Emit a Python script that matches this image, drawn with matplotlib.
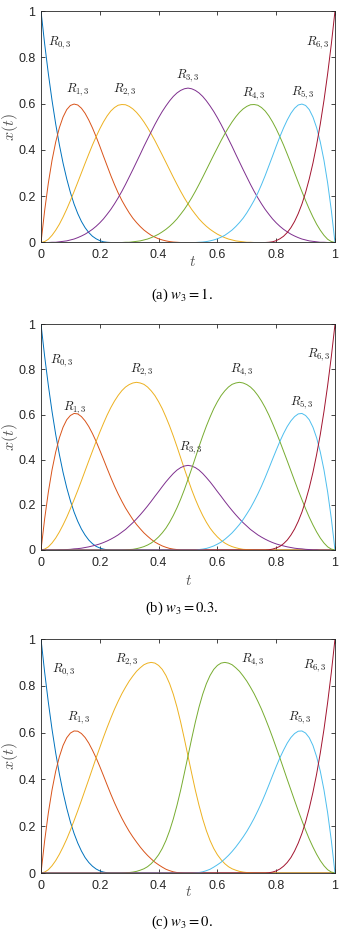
# Funcoes base NURBS R_{i,3} para tres pesos w3 (1, 0.3, 0)
import matplotlib
matplotlib.use('Agg')
import matplotlib.pyplot as plt

plt.rcParams['font.family'] = ['Liberation Sans', 'DejaVu Sans']
plt.rcParams['mathtext.fontset'] = 'cm'

# parametro t (passo 0.0125)
t_vals = [0.0000, 0.0125, 0.0250, 0.0375, 0.0500, 0.0625, 0.0750, 0.0875, 0.1000, 0.1125,
          0.1250, 0.1375, 0.1500, 0.1625, 0.1750, 0.1875, 0.2000, 0.2125, 0.2250, 0.2375,
          0.2500, 0.2625, 0.2750, 0.2875, 0.3000, 0.3125, 0.3250, 0.3375, 0.3500, 0.3625,
          0.3750, 0.3875, 0.4000, 0.4125, 0.4250, 0.4375, 0.4500, 0.4625, 0.4750, 0.4875,
          0.5000, 0.5125, 0.5250, 0.5375, 0.5500, 0.5625, 0.5750, 0.5875, 0.6000, 0.6125,
          0.6250, 0.6375, 0.6500, 0.6625, 0.6750, 0.6875, 0.7000, 0.7125, 0.7250, 0.7375,
          0.7500, 0.7625, 0.7750, 0.7875, 0.8000, 0.8125, 0.8250, 0.8375, 0.8500, 0.8625,
          0.8750, 0.8875, 0.9000, 0.9125, 0.9250, 0.9375, 0.9500, 0.9625, 0.9750, 0.9875,
          1.0000]

# --- (a) w3 = 1 ---
a_R0 = [1.000, .857, .729, .614, .512, .422, .343, .275, .216, .166,
        .125, .091, .064, .043, .027, .016, .008, .003, .001, 0,
        0, 0, 0, 0, 0, 0, 0, 0, 0, 0,
        0, 0, 0, 0, 0, 0, 0, 0, 0, 0,
        0, 0, 0, 0, 0, 0, 0, 0, 0, 0,
        0, 0, 0, 0, 0, 0, 0, 0, 0, 0,
        0, 0, 0, 0, 0, 0, 0, 0, 0, 0,
        0, 0, 0, 0, 0, 0, 0, 0, 0, 0,
        0]
a_R1 = [0, .139, .257, .355, .434, .496, .542, .574, .592, .598,
        .594, .580, .558, .529, .495, .457, .416, .373, .331, .289,
        .250, .214, .182, .154, .128, .105, .086, .069, .054, .042,
        .031, .023, .016, .011, .007, .004, .002, .001, 0, 0,
        0, 0, 0, 0, 0, 0, 0, 0, 0, 0,
        0, 0, 0, 0, 0, 0, 0, 0, 0, 0,
        0, 0, 0, 0, 0, 0, 0, 0, 0, 0,
        0, 0, 0, 0, 0, 0, 0, 0, 0, 0,
        0]
a_R2 = [0, .004, .014, .031, .053, .079, .110, .144, .181, .220,
        .260, .301, .342, .382, .421, .457, .491, .521, .547, .568,
        .583, .593, .596, .595, .588, .577, .562, .543, .521, .496,
        .469, .440, .409, .378, .346, .314, .282, .251, .221, .193,
        .167, .143, .122, .102, .085, .070, .057, .046, .036, .028,
        .021, .015, .011, .007, .005, .003, .001, .001, 0, 0,
        0, 0, 0, 0, 0, 0, 0, 0, 0, 0,
        0, 0, 0, 0, 0, 0, 0, 0, 0, 0,
        0]
a_R3 = [0, 0, 0, .001, .001, .003, .005, .007, .011, .015,
        .021, .028, .036, .046, .057, .070, .085, .102, .122, .143,
        .167, .193, .221, .251, .283, .315, .348, .381, .415, .447,
        .479, .510, .539, .566, .590, .612, .631, .646, .657, .664,
        .667, .664, .657, .646, .631, .612, .590, .566, .539, .510,
        .479, .447, .415, .381, .348, .315, .283, .251, .221, .193,
        .167, .143, .122, .102, .085, .070, .057, .046, .036, .028,
        .021, .015, .011, .007, .005, .003, .001, .001, 0, 0,
        0]
a_R4 = [0, 0, 0, 0, 0, 0, 0, 0, 0, 0,
        0, 0, 0, 0, 0, 0, 0, 0, 0, 0,
        0, 0, 0, .001, .001, .003, .005, .007, .011, .015,
        .021, .028, .036, .046, .057, .070, .085, .102, .122, .143,
        .167, .193, .221, .251, .282, .314, .346, .378, .409, .440,
        .469, .496, .521, .543, .562, .577, .588, .595, .596, .593,
        .583, .568, .547, .521, .491, .457, .421, .382, .342, .301,
        .260, .220, .181, .144, .110, .079, .053, .031, .014, .004,
        0]
a_R5 = [0, 0, 0, 0, 0, 0, 0, 0, 0, 0,
        0, 0, 0, 0, 0, 0, 0, 0, 0, 0,
        0, 0, 0, 0, 0, 0, 0, 0, 0, 0,
        0, 0, 0, 0, 0, 0, 0, 0, 0, 0,
        0, 0, 0, .001, .002, .004, .007, .011, .016, .023,
        .031, .042, .054, .069, .086, .105, .128, .154, .182, .214,
        .250, .289, .331, .373, .416, .457, .495, .529, .558, .580,
        .594, .598, .592, .574, .542, .496, .434, .355, .257, .139,
        0]
a_R6 = [0, 0, 0, 0, 0, 0, 0, 0, 0, 0,
        0, 0, 0, 0, 0, 0, 0, 0, 0, 0,
        0, 0, 0, 0, 0, 0, 0, 0, 0, 0,
        0, 0, 0, 0, 0, 0, 0, 0, 0, 0,
        0, 0, 0, 0, 0, 0, 0, 0, 0, 0,
        0, 0, 0, 0, 0, 0, 0, 0, 0, 0,
        0, 0, .001, .003, .008, .016, .027, .043, .064, .091,
        .125, .166, .216, .275, .343, .422, .512, .614, .729, .857,
        1.000]

# --- (b) w3 = 0.3 ---
b_R0 = [1.000, .857, .729, .614, .512, .423, .344, .276, .218, .168,
        .127, .093, .066, .044, .028, .016, .009, .004, .001, 0,
        0, 0, 0, 0, 0, 0, 0, 0, 0, 0,
        0, 0, 0, 0, 0, 0, 0, 0, 0, 0,
        0, 0, 0, 0, 0, 0, 0, 0, 0, 0,
        0, 0, 0, 0, 0, 0, 0, 0, 0, 0,
        0, 0, 0, 0, 0, 0, 0, 0, 0, 0,
        0, 0, 0, 0, 0, 0, 0, 0, 0, 0,
        0]
b_R1 = [0, .139, .257, .355, .434, .497, .544, .577, .596, .605,
        .603, .591, .572, .547, .516, .481, .442, .402, .361, .321,
        .283, .248, .216, .186, .160, .135, .113, .094, .076, .061,
        .047, .035, .026, .018, .012, .007, .004, .002, 0, 0,
        0, 0, 0, 0, 0, 0, 0, 0, 0, 0,
        0, 0, 0, 0, 0, 0, 0, 0, 0, 0,
        0, 0, 0, 0, 0, 0, 0, 0, 0, 0,
        0, 0, 0, 0, 0, 0, 0, 0, 0, 0,
        0]
b_R2 = [0, .004, .014, .031, .053, .080, .111, .145, .183, .223,
        .264, .307, .351, .395, .438, .481, .522, .561, .598, .631,
        .660, .685, .706, .722, .733, .740, .743, .740, .734, .722,
        .705, .684, .657, .626, .589, .549, .505, .458, .409, .360,
        .313, .267, .225, .187, .153, .123, .097, .076, .058, .043,
        .031, .022, .015, .010, .006, .003, .002, .001, 0, 0,
        0, 0, 0, 0, 0, 0, 0, 0, 0, 0,
        0, 0, 0, 0, 0, 0, 0, 0, 0, 0,
        0]
b_R3 = [0, 0, 0, 0, 0, .001, .001, .002, .003, .005,
        .006, .008, .011, .014, .018, .022, .027, .033, .040, .048,
        .057, .067, .079, .091, .106, .121, .138, .156, .175, .195,
        .216, .238, .259, .281, .302, .321, .339, .354, .365, .372,
        .375, .372, .365, .354, .339, .321, .302, .281, .259, .238,
        .216, .195, .175, .156, .138, .121, .106, .091, .079, .067,
        .057, .048, .040, .033, .027, .022, .018, .014, .011, .008,
        .006, .005, .003, .002, .001, .001, 0, 0, 0, 0,
        0]
b_R4 = [0, 0, 0, 0, 0, 0, 0, 0, 0, 0,
        0, 0, 0, 0, 0, 0, 0, 0, 0, 0,
        0, 0, 0, .001, .002, .003, .006, .010, .015, .022,
        .031, .043, .058, .076, .097, .123, .153, .187, .225, .267,
        .313, .360, .409, .458, .505, .549, .589, .626, .657, .684,
        .705, .722, .734, .740, .743, .740, .733, .722, .706, .685,
        .660, .631, .598, .561, .522, .481, .438, .395, .351, .307,
        .264, .223, .183, .145, .111, .080, .053, .031, .014, .004,
        0]
b_R5 = [0, 0, 0, 0, 0, 0, 0, 0, 0, 0,
        0, 0, 0, 0, 0, 0, 0, 0, 0, 0,
        0, 0, 0, 0, 0, 0, 0, 0, 0, 0,
        0, 0, 0, 0, 0, 0, 0, 0, 0, 0,
        0, 0, 0, .002, .004, .007, .012, .018, .026, .035,
        .047, .061, .076, .094, .113, .135, .160, .186, .216, .248,
        .283, .321, .361, .402, .442, .481, .516, .547, .572, .591,
        .603, .605, .596, .577, .544, .497, .434, .355, .257, .139,
        0]
b_R6 = [0, 0, 0, 0, 0, 0, 0, 0, 0, 0,
        0, 0, 0, 0, 0, 0, 0, 0, 0, 0,
        0, 0, 0, 0, 0, 0, 0, 0, 0, 0,
        0, 0, 0, 0, 0, 0, 0, 0, 0, 0,
        0, 0, 0, 0, 0, 0, 0, 0, 0, 0,
        0, 0, 0, 0, 0, 0, 0, 0, 0, 0,
        0, 0, .001, .004, .009, .016, .028, .044, .066, .093,
        .127, .168, .218, .276, .344, .423, .512, .614, .729, .857,
        1.000]

# --- (c) w3 = 0 ---
c_R0 = [1.000, .857, .729, .614, .513, .423, .345, .277, .218, .169,
        .128, .094, .066, .045, .029, .017, .009, .004, .001, 0,
        0, 0, 0, 0, 0, 0, 0, 0, 0, 0,
        0, 0, 0, 0, 0, 0, 0, 0, 0, 0,
        0, 0, 0, 0, 0, 0, 0, 0, 0, 0,
        0, 0, 0, 0, 0, 0, 0, 0, 0, 0,
        0, 0, 0, 0, 0, 0, 0, 0, 0, 0,
        0, 0, 0, 0, 0, 0, 0, 0, 0, 0,
        0]
c_R1 = [0, .139, .257, .355, .435, .497, .545, .578, .598, .607,
        .606, .596, .579, .555, .525, .492, .455, .416, .376, .337,
        .300, .266, .234, .205, .178, .154, .132, .111, .092, .075,
        .060, .046, .035, .025, .016, .010, .005, .002, .001, 0,
        0, 0, 0, 0, 0, 0, 0, 0, 0, 0,
        0, 0, 0, 0, 0, 0, 0, 0, 0, 0,
        0, 0, 0, 0, 0, 0, 0, 0, 0, 0,
        0, 0, 0, 0, 0, 0, 0, 0, 0, 0,
        0]
c_R2 = [0, .004, .014, .031, .053, .080, .111, .145, .183, .224,
        .266, .310, .355, .400, .446, .492, .536, .580, .622, .662,
        .700, .734, .766, .794, .820, .842, .862, .877, .890, .897,
        .900, .897, .887, .870, .844, .809, .764, .709, .645, .574,
        .500, .426, .354, .289, .231, .181, .139, .105, .078, .057,
        .040, .027, .018, .012, .007, .004, .002, .001, 0, 0,
        0, 0, 0, 0, 0, 0, 0, 0, 0, 0,
        0, 0, 0, 0, 0, 0, 0, 0, 0, 0,
        0]
c_R3 = [0, 0, 0, 0, 0, 0, 0, 0, 0, 0,
        0, 0, 0, 0, 0, 0, 0, 0, 0, 0,
        0, 0, 0, 0, 0, 0, 0, 0, 0, 0,
        0, 0, 0, 0, 0, 0, 0, 0, 0, 0,
        0, 0, 0, 0, 0, 0, 0, 0, 0, 0,
        0, 0, 0, 0, 0, 0, 0, 0, 0, 0,
        0, 0, 0, 0, 0, 0, 0, 0, 0, 0,
        0, 0, 0, 0, 0, 0, 0, 0, 0, 0,
        0]
c_R4 = [0, 0, 0, 0, 0, 0, 0, 0, 0, 0,
        0, 0, 0, 0, 0, 0, 0, 0, 0, 0,
        0, 0, 0, .001, .002, .004, .007, .012, .018, .027,
        .040, .057, .078, .105, .139, .181, .231, .289, .354, .426,
        .500, .574, .645, .709, .764, .809, .844, .870, .887, .897,
        .900, .897, .890, .877, .862, .842, .820, .794, .766, .734,
        .700, .662, .622, .580, .536, .492, .446, .400, .355, .310,
        .266, .224, .183, .145, .111, .080, .053, .031, .014, .004,
        0]
c_R5 = [0, 0, 0, 0, 0, 0, 0, 0, 0, 0,
        0, 0, 0, 0, 0, 0, 0, 0, 0, 0,
        0, 0, 0, 0, 0, 0, 0, 0, 0, 0,
        0, 0, 0, 0, 0, 0, 0, 0, 0, 0,
        0, 0, .001, .002, .005, .010, .016, .025, .035, .046,
        .060, .075, .092, .111, .132, .154, .178, .205, .234, .266,
        .300, .337, .376, .416, .455, .492, .525, .555, .579, .596,
        .606, .607, .598, .578, .545, .497, .435, .355, .257, .139,
        0]
c_R6 = [0, 0, 0, 0, 0, 0, 0, 0, 0, 0,
        0, 0, 0, 0, 0, 0, 0, 0, 0, 0,
        0, 0, 0, 0, 0, 0, 0, 0, 0, 0,
        0, 0, 0, 0, 0, 0, 0, 0, 0, 0,
        0, 0, 0, 0, 0, 0, 0, 0, 0, 0,
        0, 0, 0, 0, 0, 0, 0, 0, 0, 0,
        0, 0, .001, .004, .009, .017, .029, .045, .066, .094,
        .128, .169, .218, .277, .345, .423, .513, .614, .729, .857,
        1.000]

tick_vals = [0, 0.2, 0.4, 0.6, 0.8, 1]
tick_labels = ['0', '0.2', '0.4', '0.6', '0.8', '1']
captions = [r'(a) $w_3 = 1$.', r'(b) $w_3 = 0.3$.', r'(c) $w_3 = 0$.']

# cores por omissao do MATLAB
CORES = ['#0072BD', '#D95319', '#EDB120', '#7E2F8E', '#77AC30', '#4DBEEE', '#A2142F']
CINZA = '#262626'

# posicao dos rotulos R_{i,3} (coordenadas dos dados), por painel
ROTULOS = [
    [(0.063, 0.863), (0.126, 0.659), (0.285, 0.659), (0.499, 0.719),
     (0.724, 0.641), (0.891, 0.647), (0.942, 0.861)],
    [(0.072, 0.839), (0.115, 0.632), (0.342, 0.797), (0.511, 0.453),
     (0.684, 0.797), (0.888, 0.653), (0.945, 0.867)],
    [(0.077, 0.868), (0.130, 0.664), (0.292, 0.911), None,
     (0.720, 0.911), (0.882, 0.664), (0.931, 0.885)],
]

W, H = 341, 935
# caixas dos eixos em pixeis: (esq, topo, dir, baixo)
CAIXAS = [(41, 11, 335, 242.5), (41, 324.3, 335, 550), (41, 639, 335, 873)]
T_POS = [(0.514, -0.084), (0.503, -0.137), (0.503, -0.081)]
CAP_Y = [295, 608, 922]

paineis = [
    [a_R0, a_R1, a_R2, a_R3, a_R4, a_R5, a_R6],
    [b_R0, b_R1, b_R2, b_R3, b_R4, b_R5, b_R6],
    [c_R0, c_R1, c_R2, c_R3, c_R4, c_R5, c_R6],
]

fig = plt.figure(figsize=(W / 100, H / 100), dpi=100)

for p, curvas in enumerate(paineis):
    l, top, r, bot = CAIXAS[p]
    ax = fig.add_axes([l / W, 1 - bot / H, (r - l) / W, (bot - top) / H])
    for i, y in enumerate(curvas):
        ax.plot(t_vals, y, color=CORES[i], lw=0.7)
    ax.set_xlim(0, 1)
    ax.set_ylim(0, 1)
    ax.set_xticks(tick_vals)
    ax.set_xticklabels(tick_labels)
    ax.set_yticks(tick_vals)
    ax.set_yticklabels(tick_labels)
    ax.tick_params(direction='in', top=True, right=True, length=3, width=0.6,
                   colors=CINZA, labelsize=9)
    ax.tick_params(axis='x', pad=5)
    ax.tick_params(axis='y', pad=4)
    for s in ax.spines.values():
        s.set_color(CINZA)
        s.set_linewidth(0.6)
    ax.set_ylabel(r'$x(t)$', color='#555555', fontsize=11.5)
    ax.yaxis.label.set_va('center')
    ax.yaxis.set_label_coords(-0.105, 0.5)
    ax.text(T_POS[p][0], T_POS[p][1], r'$t$', transform=ax.transAxes,
            ha='center', va='center', fontsize=11, color='#555555')
    for i, pos in enumerate(ROTULOS[p]):
        if pos is None:
            continue
        ax.text(pos[0], pos[1], r'$R_{%d,3}$' % i, ha='center', va='center',
                fontsize=9, color='#222222')
    fig.text(182 / W, 1 - CAP_Y[p] / H, captions[p], ha='center', va='center',
             fontsize=10.5, family='Liberation Serif', math_fontfamily='stix')

fig.savefig('out.png', dpi=100)
